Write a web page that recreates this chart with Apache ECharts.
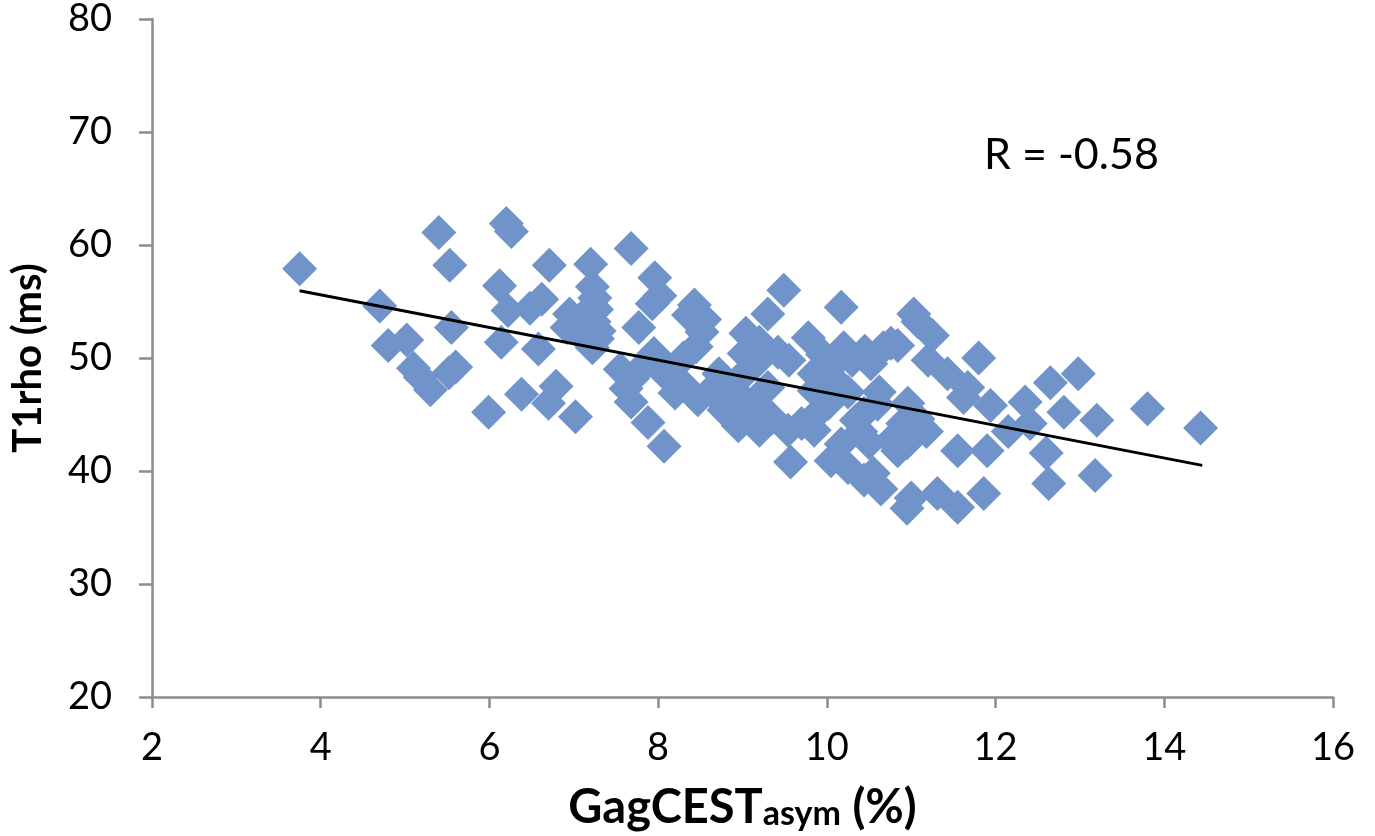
<!DOCTYPE html>
<html>
<head>
<meta charset="utf-8">
<script src="https://cdn.jsdelivr.net/npm/echarts@6/dist/echarts.min.js"></script>
<style>
html,body{margin:0;padding:0;background:#fff;}
#chart{width:1375px;height:836px;}
</style>
</head>
<body>
<div id="chart"></div>
<script>
// GagCEST asym (%) values
const gagcestValues = [
  3.75, 4.70, 4.80, 5.02, 5.10, 5.18, 5.30, 5.40, 5.53, 5.55,
  5.52, 5.60, 5.99, 6.12, 6.14, 6.20, 6.26, 6.22, 6.38, 6.48,
  6.62, 6.58, 6.71, 6.70, 6.79, 7.02, 6.95, 6.92, 7.05, 7.08,
  7.20, 7.22, 7.25, 7.27, 7.24, 7.28, 7.22, 7.30, 7.68, 7.96,
  7.93, 8.02, 8.43, 8.55, 8.36, 7.77, 8.45, 8.52, 7.55, 7.70,
  7.62, 7.68, 7.88, 8.07, 8.20, 8.30, 7.85, 8.05, 8.20, 8.47,
  8.62, 8.78, 8.95, 8.72, 8.90, 7.95, 8.30, 9.04, 9.30, 9.49,
  9.20, 9.02, 9.15, 9.42, 9.55, 9.30, 9.06, 9.12, 9.20, 9.00,
  9.35, 9.54, 9.70, 9.85, 9.57, 9.78, 9.85, 9.85, 9.95, 10.05,
  10.17, 10.20, 10.10, 10.25, 10.02, 9.90, 10.17, 10.05, 10.25, 10.35,
  10.40, 10.30, 10.52, 10.45, 10.67, 10.76, 10.44, 10.60, 10.50, 10.44,
  10.64, 10.55, 10.76, 10.62, 10.84, 10.96, 10.90, 11.00, 11.08, 11.18,
  10.84, 10.95, 11.03, 11.08, 11.25, 11.20, 11.43, 11.67, 11.80, 11.62,
  11.94, 12.35, 12.15, 12.41, 12.65, 12.98, 12.81, 13.20, 13.80, 14.43,
  11.55, 11.90, 12.60, 12.63, 13.18, 11.00, 10.95, 11.31, 11.55, 11.86
];
// T1rho (ms) values
const t1rhoValues = [
  57.9, 54.6, 51.1, 51.6, 49.1, 48.3, 47.2, 61.1, 58.2, 52.7,
  48.7, 49.2, 45.2, 56.4, 51.4, 61.9, 61.2, 54.2, 46.8, 54.4,
  55.2, 50.8, 58.2, 46.0, 47.5, 44.8, 53.9, 52.7, 52.3, 53.5,
  58.3, 56.3, 55.3, 54.3, 53.2, 51.7, 50.9, 52.4, 59.7, 57.1,
  54.8, 55.5, 54.7, 53.4, 53.8, 52.7, 51.0, 52.3, 49.0, 48.2,
  47.3, 46.1, 44.3, 42.2, 46.9, 47.6, 49.5, 48.8, 48.3, 46.3,
  47.1, 45.4, 44.0, 48.6, 47.2, 50.4, 50.0, 52.2, 53.9, 56.0,
  51.4, 50.4, 49.5, 50.5, 49.8, 47.4, 48.9, 46.0, 43.6, 45.0,
  44.7, 43.6, 44.2, 43.6, 40.8, 51.8, 48.6, 47.1, 50.3, 49.2,
  54.5, 50.9, 48.0, 47.0, 46.0, 45.2, 42.4, 40.9, 40.3, 44.5,
  43.5, 49.8, 49.5, 50.6, 50.9, 51.3, 45.1, 45.9, 42.5, 39.2,
  38.4, 39.8, 42.7, 47.0, 51.1, 46.0, 44.2, 43.3, 44.6, 43.5,
  41.8, 42.5, 53.9, 53.2, 52.0, 49.8, 48.6, 47.4, 50.0, 46.5,
  45.8, 46.1, 43.5, 44.2, 47.8, 48.6, 45.2, 44.5, 45.5, 43.8,
  41.8, 41.8, 41.6, 38.9, 39.6, 37.6, 36.7, 38.0, 36.8, 38.0
];
// Linear fit line end points
const trendX = [3.75, 14.45];
const trendY = [55.95, 40.5];
const xTicks = [2, 4, 6, 8, 10, 12, 14, 16];
const yTicks = [20, 30, 40, 50, 60, 70, 80];
const annotation = 'R = -0.58';

const scatterData = gagcestValues.map((x, i) => [x, t1rhoValues[i]]);
const lineData = trendX.map((x, i) => [x, trendY[i]]);

const FONT = 'Lato, "Liberation Sans", sans-serif';
const axisColor = '#8c8c8c';

const chart = echarts.init(document.getElementById('chart'), null, {renderer: 'canvas'});
chart.setOption({
  backgroundColor: '#ffffff',
  animation: false,
  grid: {left: 150, right: 42, top: 18, bottom: 139, containLabel: false},
  xAxis: {
    type: 'value',
    min: xTicks[0], max: xTicks[xTicks.length - 1], interval: 2,
    splitLine: {show: false},
    axisLine: {show: true, lineStyle: {color: axisColor, width: 2.5}},
    axisTick: {show: true, length: 11, lineStyle: {color: axisColor, width: 2.5}},
    axisLabel: {color: '#000', fontSize: 38, fontFamily: FONT, margin: 32},
    name: '{b|GagCEST}{s|asym}{b| (%)}',
    nameLocation: 'middle',
    nameGap: 80,
    nameTextStyle: {
      rich: {
        b: {fontSize: 47, fontWeight: 'bold', fontFamily: FONT, color: '#000', lineHeight: 54, verticalAlign: 'bottom'},
        s: {fontSize: 34, fontWeight: 'bold', fontFamily: FONT, color: '#000', lineHeight: 14, verticalAlign: 'bottom'}
      }
    }
  },
  yAxis: {
    type: 'value',
    min: yTicks[0], max: yTicks[yTicks.length - 1], interval: 10,
    splitLine: {show: false},
    axisLine: {show: true, lineStyle: {color: axisColor, width: 2.5}},
    axisTick: {show: true, length: 13, lineStyle: {color: axisColor, width: 2.5}},
    axisLabel: {color: '#000', fontSize: 38, fontFamily: FONT, margin: 40},
    name: 'T1rho (ms)',
    nameLocation: 'middle',
    nameGap: 104,
    nameTextStyle: {fontSize: 40, fontWeight: 'bold', fontFamily: FONT, color: '#000'}
  },
  graphic: [{
    type: 'text',
    left: 984, top: 134,
    style: {text: annotation, fontSize: 43, fontFamily: FONT, fill: '#000'}
  }],
  series: [{
    type: 'scatter',
    data: scatterData,
    symbol: 'diamond',
    symbolSize: 35,
    itemStyle: {color: '#7094c9', opacity: 1},
    z: 2
  }, {
    type: 'line',
    data: lineData,
    symbol: 'none',
    lineStyle: {color: '#000', width: 3},
    z: 3
  }]
});
</script>
</body>
</html>
